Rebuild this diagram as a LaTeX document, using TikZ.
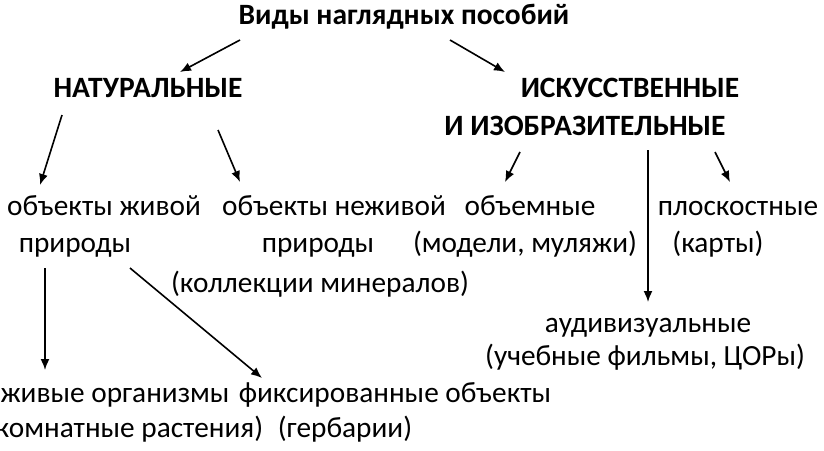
\documentclass[tikz,border=0pt]{standalone}
\usepackage{fontspec}
\setmainfont{Carlito}
\usetikzlibrary{positioning,arrows.meta}
\tikzset{
  lbl/.style={inner sep=0pt,text height=0.7em,text depth=0.2em,font=\fontsize{29.3}{33}\selectfont},
  head/.style={lbl,font=\fontsize{29.5}{33}\selectfont\bfseries},
  arr/.style={-{Latex[length=11pt,width=9pt]},line width=1.6pt}
}
\begin{document}
\begin{tikzpicture}[x=1pt,y=-1pt]
  \useasboundingbox (0,0) rectangle (824,450);
  \begin{scope}[yshift=-5pt]
  % headings
  \node[head] (title) at (404,17) {Виды наглядных пособий};
  \node[head] (nat) at (148,90) {НАТУРАЛЬНЫЕ};
  \node[head] (art) at (630,90) {ИСКУССТВЕННЫЕ};
  \node[head] (art2) at (585,128) {И ИЗОБРАЗИТЕЛЬНЫЕ};
  % natural branch
  \node[lbl] (live) at (104,208) {объекты живой};
  \node[lbl] (live2) at (75,245) {природы};
  \node[lbl] (dead) at (334,208) {объекты неживой};
  \node[lbl] (dead2) at (318,245) {природы};
  \node[lbl] (dead3) at (320,285) {(коллекции минералов)};
  \node[lbl] (org) at (115,395) {живые организмы};
  \node[lbl] (org2) at (125,430) {(комнатные растения)};
  \node[lbl] (fix) at (395,395) {фиксированные объекты};
  \node[lbl] (fix2) at (345,430) {(гербарии)};
  % artificial branch
  \node[lbl] (vol) at (530,208) {объемные};
  \node[lbl] (vol2) at (525,245) {(модели, муляжи)};
  \node[lbl] (flat) at (738,208) {плоскостные};
  \node[lbl] (flat2) at (718,245) {(карты)};
  \node[lbl] (av) at (648,325) {аудивизуальные};
  \node[lbl] (av2) at (645,358) {(учебные фильмы, ЦОРы)};
  \end{scope}
  % arrow ends
  \coordinate (t1) at (240,40);   \coordinate (t1e) at (180,72);
  \coordinate (t2) at (450,40);   \coordinate (t2e) at (505,72);
  \coordinate (n1) at (62,115);   \coordinate (n1e) at (40,185);
  \coordinate (n2) at (218,130);  \coordinate (n2e) at (240,182);
  \coordinate (a1) at (520,152);  \coordinate (a1e) at (505,182);
  \coordinate (a2) at (715,152);  \coordinate (a2e) at (730,182);
  \coordinate (a3) at (648,150);  \coordinate (a3e) at (648,302);
  \coordinate (l1) at (45,268);   \coordinate (l1e) at (45,370);
  \coordinate (l2) at (130,268);  \coordinate (l2e) at (262,378);
  % connectors
  \foreach \s in {t1,t2,n1,n2,a1,a2,a3,l1,l2}
    \draw[arr] (\s) -- (\s e);
\end{tikzpicture}
\end{document}
